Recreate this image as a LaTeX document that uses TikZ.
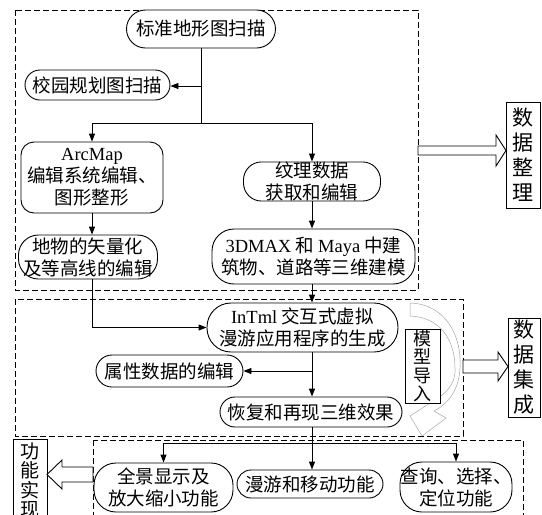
\documentclass[tikz,border=0pt]{standalone}
\usepackage{fontspec}
\setmainfont{Liberation Serif}
\newfontfamily\zh{Noto Sans CJK SC}
\usetikzlibrary{arrows.meta}
\tikzset{
  box/.style={draw, line width=0.9pt, fill=white, align=center, inner sep=0pt,
    font=\zh\fontsize{18.5}{22}\selectfont},
  vbox/.style={draw, line width=0.9pt, fill=white, align=center, inner sep=0pt,
    font=\zh\fontsize{21}{25}\selectfont},
  dbox/.style={draw, line width=0.9pt, dash pattern=on 6pt off 3pt},
  ln/.style={line width=0.9pt},
  arr/.style={line width=0.9pt, -{Triangle[length=8pt,width=6pt]}},
  hollow/.style={draw, line width=0.9pt, fill=white},
}
\begin{document}
\begin{tikzpicture}[x=1pt,y=-1pt]
\useasboundingbox (0,0) rectangle (542,515);
\clip (0,0) rectangle (542,515);
\fill[white] (0,0) rectangle (542,515);

% dashed frames
\draw[dbox] (15,10) rectangle (418,290);
\draw[dbox] (15,299) rectangle (463,436);
\draw[dbox] (93,440) rectangle (523,530);

% nodes
\node[box, minimum width=149pt, minimum height=38pt, rounded corners=19pt] (n1) at (201,29) {标准地形图扫描};
\node[box, minimum width=145pt, minimum height=30pt, rounded corners=15pt] (n2) at (97.5,85) {校园规划图扫描};
\node[box, minimum width=142pt, minimum height=71pt, rounded corners=13pt] (n3) at (92,177.5) {{\rmfamily ArcMap}\\编辑系统编辑、\\图形整形};
\node[box, minimum width=139pt, minimum height=44pt, rounded corners=20pt] (n4) at (88,257) {地物的矢量化\\及等高线的编辑};
\node[box, minimum width=137pt, minimum height=37pt, rounded corners=18pt] (n5) at (312,181.5) {纹理数据\\获取和编辑};
\node[box, minimum width=203pt, minimum height=55pt, rounded corners=22pt] (n6) at (313.5,256.5) {{\rmfamily 3DMAX} 和 {\rmfamily Maya} 中建\\筑物、道路等三维建模};
\node[box, minimum width=191pt, minimum height=49pt, rounded corners=24pt] (n7) at (302.5,327.5) {{\rmfamily InTml} 交互式虚拟\\漫游应用程序的生成};
\node[box, minimum width=147pt, minimum height=32pt, rounded corners=16pt] (n8) at (169.5,371) {属性数据的编辑};
\node[box, minimum width=182pt, minimum height=30pt, rounded corners=15pt] (n9) at (311,412) {恢复和再现三维效果};

% curved hollow arrow
\draw[gray!70, line width=0.5pt, fill=white]
  (410,303) .. controls (445,304) and (462,335) .. (460,368)
  .. controls (459,390) and (448,404) .. (434,411)
  -- (446,418) -- (422,436) -- (410,416) -- (427,405)
  .. controls (446,394) and (456,385) .. (455,368)
  .. controls (455,340) and (440,317) .. (410,316) -- cycle;

\node[vbox, font=\zh\fontsize{18}{18.5}\selectfont, minimum width=35pt, minimum height=74pt] (n10) at (422.5,366) {模\\型\\导\\入};
\node[vbox, minimum width=34pt, minimum height=106pt] (n11) at (523,155) {数\\据\\整\\理};
\node[vbox, minimum width=32pt, minimum height=99pt] (n12) at (524,367.5) {数\\据\\集\\成};
\node[vbox, font=\zh\fontsize{19}{19.5}\selectfont, anchor=north, minimum width=34pt, minimum height=82pt] (n13) at (30,439) {功\\能\\实\\现};

\node[box, minimum width=139pt, minimum height=49pt, rounded corners=22pt] (n14) at (163.5,487.5) {全景显示及\\放大缩小功能};
\node[box, minimum width=146pt, minimum height=28pt, rounded corners=14pt] (n15) at (310,484) {漫游和移动功能};
\node[box, minimum width=112pt, minimum height=50pt, rounded corners=22pt] (n16) at (456,487) {查询、选择、\\定位功能};

% connectors
\coordinate (j1) at (201,86);
\coordinate (j2) at (201,123);
\draw[ln] (n1.south) -- (j2);
\draw[arr] (j1) -- (n2.east |- j1);
\draw[arr] (j2) -| (n3.north);
\draw[arr] (j2) -| (n5.north);
\draw[arr] (n3.south) -- (n3.south |- n4.north);
\draw[arr] (n5.south) -- (n5.south |- n6.north);
\draw[arr] (n5.south |- n6.south) -- (n5.south |- n7.north);
\draw[arr] (n3.south |- n4.south) |- (n7.west);
\coordinate (j3) at (312,371);
\draw[arr] (n5.south |- n7.south) -- (n5.south |- n9.north);
\draw[arr] (j3) -- (n8.east);
\coordinate (j4) at (312,443);
\draw[ln] (n5.south |- n9.south) -- (j4);
\draw[arr] (j4) -| (n14.north);
\draw[arr] (j4) -- (j4 |- n15.north);
\draw[arr] (j4) -| (n16.north);

% hollow block arrows
\draw[hollow] (418,146) -- (496,146) -- (496,135) -- (506,150.5) -- (496,166) -- (496,155) -- (418,155) -- cycle;
\draw[hollow] (463,360) -- (498,360) -- (498,352) -- (508,366.5) -- (498,381) -- (498,373) -- (463,373) -- cycle;
\draw[hollow] (93,467) -- (62,467) -- (62,460) -- (47,474.5) -- (62,489) -- (62,482) -- (93,482) -- cycle;
\end{tikzpicture}
\end{document}
